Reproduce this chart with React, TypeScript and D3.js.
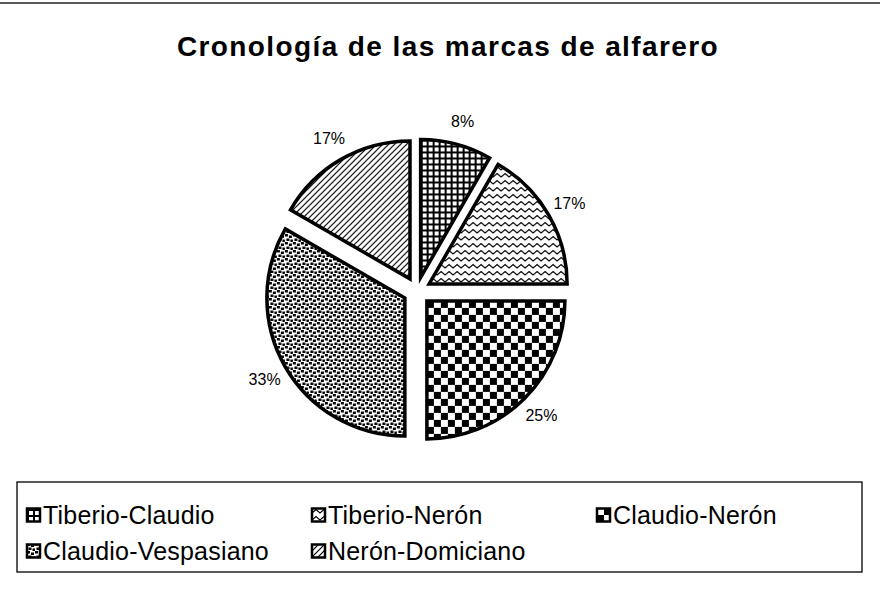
import { useEffect, useRef } from 'react';
import * as d3 from 'd3';

// periods of the potter's marks and how many marks fall in each
const periods = ['Tiberio-Claudio', 'Tiberio-Nerón', 'Claudio-Nerón', 'Claudio-Vespasiano', 'Nerón-Domiciano'];
const counts = [1, 2, 3, 4, 2];
const patternIds = ['pGrid', 'pWave', 'pCheck', 'pDots', 'pDiag'];
const title = 'Cronología de las marcas de alfarero';

const FONT = "'Liberation Sans', Arial, Helvetica, sans-serif";

const App = () => {
  const ref = useRef<SVGSVGElement | null>(null);

  useEffect(() => {
    const width = 880;
    const height = 600;
    const cx = 417;
    const cy = 291;
    const radius = 138;
    const explode = 14;
    const labelDist = 176;

    const svg = d3.select(ref.current);
    svg.selectAll('*').remove();
    svg.attr('width', width).attr('height', height);

    svg.append('rect').attr('width', width).attr('height', height).attr('fill', 'white');

    // scanned frame line at the top
    svg.append('line')
      .attr('x1', 0).attr('x2', width).attr('y1', 3).attr('y2', 3)
      .attr('stroke', '#222').attr('stroke-width', 1.5);

    const defs = svg.append('defs');

    const grid = defs.append('pattern').attr('id', 'pGrid')
      .attr('patternUnits', 'userSpaceOnUse').attr('width', 6).attr('height', 6);
    grid.append('rect').attr('width', 6).attr('height', 6).attr('fill', 'white');
    grid.append('path').attr('d', 'M0 1H6M1 0V6').attr('stroke', 'black').attr('stroke-width', 2);

    const wave = defs.append('pattern').attr('id', 'pWave')
      .attr('patternUnits', 'userSpaceOnUse').attr('width', 8).attr('height', 7);
    wave.append('rect').attr('width', 8).attr('height', 7).attr('fill', 'white');
    wave.append('path').attr('d', 'M-2 2 L0 5 L4 1.5 L8 5 L10 2')
      .attr('fill', 'none').attr('stroke', 'black').attr('stroke-width', 1.3);

    const check = defs.append('pattern').attr('id', 'pCheck')
      .attr('patternUnits', 'userSpaceOnUse').attr('width', 14).attr('height', 14);
    check.append('rect').attr('width', 14).attr('height', 14).attr('fill', 'white');
    check.append('rect').attr('width', 7).attr('height', 7).attr('fill', 'black');
    check.append('rect').attr('x', 7).attr('y', 7).attr('width', 7).attr('height', 7).attr('fill', 'black');

    const dots = defs.append('pattern').attr('id', 'pDots')
      .attr('patternUnits', 'userSpaceOnUse').attr('width', 8).attr('height', 8);
    dots.append('rect').attr('width', 8).attr('height', 8).attr('fill', 'white');
    dots.append('path').attr('d', 'M0 0h3v2.5h-3z M4 1.5h3v2.5h-3z M1.5 4.5h3v2.5h-3z M5.5 5.5h2.5v2.5h-2.5z')
      .attr('fill', 'black');

    const diag = defs.append('pattern').attr('id', 'pDiag')
      .attr('patternUnits', 'userSpaceOnUse').attr('width', 6).attr('height', 6);
    diag.append('rect').attr('width', 6).attr('height', 6).attr('fill', 'white');
    diag.append('path').attr('d', 'M0 6L6 0M-1 1L1 -1M5 7L7 5')
      .attr('stroke', 'black').attr('stroke-width', 1.2);

    // title
    svg.append('text')
      .attr('x', 448).attr('y', 56)
      .attr('text-anchor', 'middle')
      .style('font-family', FONT)
      .style('font-weight', 'bold')
      .style('font-size', '28px')
      .style('letter-spacing', '1.4px')
      .text(title);

    const data = periods.map((p, i) => ({ key: p, y: counts[i], pattern: patternIds[i] }));
    const total = d3.sum(counts);
    const fmt = d3.format('.0%');

    const pie = d3.pie<{ key: string; y: number; pattern: string }>().sort(null).value((d) => d.y);
    const arc = d3.arc<d3.PieArcDatum<{ key: string; y: number; pattern: string }>>()
      .outerRadius(radius).innerRadius(0);

    const g = svg.append('g').attr('transform', `translate(${cx},${cy})`);
    const arcs = g.selectAll('g.slice').data(pie(data)).enter().append('g').attr('class', 'slice');

    const mid = (d: d3.PieArcDatum<unknown>) => (d.startAngle + d.endAngle) / 2;

    arcs.append('path')
      .attr('transform', (d) => {
        const a = mid(d);
        return `translate(${Math.sin(a) * explode},${-Math.cos(a) * explode})`;
      })
      .attr('d', arc)
      .attr('fill', (d) => `url(#${d.data.pattern})`)
      .attr('stroke', 'black')
      .attr('stroke-width', 3.5)
      .attr('stroke-linejoin', 'miter');

    arcs.append('text')
      .attr('x', (d) => Math.sin(mid(d)) * labelDist)
      .attr('y', (d) => -Math.cos(mid(d)) * labelDist)
      .attr('dy', '0.35em')
      .attr('text-anchor', 'middle')
      .style('font-family', FONT)
      .style('font-size', '16px')
      .text((d) => fmt(d.data.y / total));

    // legend
    const legendX = 17;
    const legendY = 482;
    svg.append('rect')
      .attr('x', legendX).attr('y', legendY).attr('width', 845).attr('height', 90)
      .attr('fill', 'none').attr('stroke', 'black').attr('stroke-width', 1.3);

    const colX = [27, 312, 597];
    const rowY = [515, 551];
    const items = svg.selectAll('g.leg').data(data).enter().append('g').attr('class', 'leg')
      .attr('transform', (_d, i) => `translate(${colX[i % 3]},${rowY[Math.floor(i / 3)]})`);

    items.append('rect')
      .attr('x', 0).attr('y', -6.5).attr('width', 13).attr('height', 13)
      .attr('fill', (d) => `url(#${d.pattern})`)
      .attr('stroke', 'black').attr('stroke-width', 2.5);

    items.append('text')
      .attr('x', 16).attr('y', 0).attr('dy', '0.36em')
      .style('font-family', FONT)
      .style('font-size', '25px')
      .style('letter-spacing', '0.2px')
      .text((d) => d.key);
  }, []);

  return <svg ref={ref} style={{ position: 'absolute', left: 0, top: 0 }} />;
};

export default App;
